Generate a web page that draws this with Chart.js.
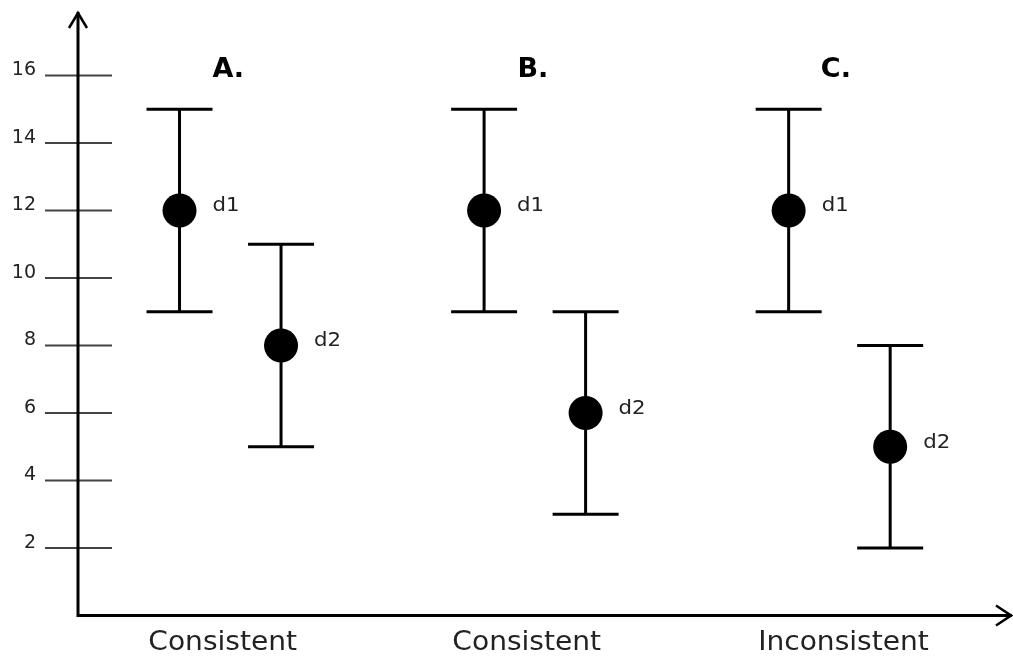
<!DOCTYPE html>
<html>
<head>
<meta charset="utf-8">
<script src="https://cdn.jsdelivr.net/npm/chart.js@4"></script>
<style>
  html, body { margin: 0; padding: 0; background: #fff; }
  #wrap { width: 1013px; height: 656px; }
</style>
</head>
<body>
<div id="wrap"><canvas id="chart"></canvas></div>
<script>
// data
const xPos = [1, 2, 4, 5, 7, 8];
const means = [12, 8, 12, 6, 12, 5];
const lows = [9, 5, 9, 3, 9, 2];
const highs = [15, 11, 15, 9, 15, 8];
const pointNames = ["d1", "d2", "d1", "d2", "d1", "d2"];
const groupTitles = ["A.", "B.", "C."];
const groupTitleX = [1.48, 4.48, 7.465];
const groupLabels = ["Consistent", "Consistent", "Inconsistent"];
const groupLabelX = [1.425, 4.42, 7.54];
const yTicks = [2, 4, 6, 8, 10, 12, 14, 16];

const font = "'DejaVu Sans', sans-serif";

function stretchedText(ctx, text, x, y, sx) {
  ctx.save();
  ctx.translate(x, y);
  ctx.scale(sx, 1);
  ctx.fillText(text, 0, 0);
  ctx.restore();
}

const drawing = {
  id: "drawing",
  beforeDatasetsDraw(chart) {
    const ctx = chart.ctx;
    const xs = chart.scales.x;
    const ys = chart.scales.y;
    const area = chart.chartArea;
    const x0 = xs.getPixelForValue(0);
    const y0 = ys.getPixelForValue(0);
    const left = 45, tickW = 67;
    ctx.save();

    // tick lines and labels
    ctx.strokeStyle = "#444";
    ctx.lineWidth = 2;
    ctx.fillStyle = "#222";
    ctx.font = "19px " + font;
    ctx.textAlign = "right";
    ctx.textBaseline = "alphabetic";
    yTicks.forEach(function (t) {
      const y = ys.getPixelForValue(t);
      ctx.beginPath();
      ctx.moveTo(left, y);
      ctx.lineTo(left + tickW, y);
      ctx.stroke();
      ctx.fillText(String(t), 36, y);
    });

    // axes with arrows
    ctx.strokeStyle = "#000";
    ctx.lineWidth = 3;
    ctx.beginPath();
    ctx.moveTo(x0, y0 + 1.5);
    ctx.lineTo(x0, area.top);
    ctx.moveTo(x0 - 1.5, y0);
    ctx.lineTo(area.right, y0);
    ctx.stroke();
    ctx.lineWidth = 2.5;
    ctx.beginPath();
    ctx.moveTo(x0 - 9, area.top + 16);
    ctx.lineTo(x0, area.top + 1);
    ctx.lineTo(x0 + 9, area.top + 16);
    ctx.moveTo(area.right - 16, y0 - 10);
    ctx.lineTo(area.right - 1, y0);
    ctx.lineTo(area.right - 16, y0 + 10);
    ctx.stroke();

    // error bars
    ctx.lineWidth = 3;
    xPos.forEach(function (v, i) {
      const x = xs.getPixelForValue(v);
      const yl = ys.getPixelForValue(lows[i]);
      const yh = ys.getPixelForValue(highs[i]);
      ctx.beginPath();
      ctx.moveTo(x, yl);
      ctx.lineTo(x, yh);
      ctx.moveTo(x - 33, yl);
      ctx.lineTo(x + 33, yl);
      ctx.moveTo(x - 33, yh);
      ctx.lineTo(x + 33, yh);
      ctx.stroke();
    });

    // point names
    ctx.fillStyle = "#222";
    ctx.font = "19px " + font;
    ctx.textAlign = "left";
    xPos.forEach(function (v, i) {
      stretchedText(ctx, pointNames[i], xs.getPixelForValue(v) + 33, ys.getPixelForValue(means[i]) + 1, 1.12);
    });

    // group titles
    ctx.fillStyle = "#000";
    ctx.font = "bold 27px " + font;
    ctx.textAlign = "center";
    groupTitles.forEach(function (t, i) {
      ctx.fillText(t, xs.getPixelForValue(groupTitleX[i]), 77);
    });

    // category labels
    ctx.fillStyle = "#222";
    ctx.font = "26px " + font;
    groupLabels.forEach(function (t, i) {
      stretchedText(ctx, t, xs.getPixelForValue(groupLabelX[i]), y0 + 34, 1.08);
    });
    ctx.restore();
  }
};

new Chart(document.getElementById("chart"), {
  type: "scatter",
  data: {
    datasets: [{
      data: xPos.map(function (x, i) { return { x: x, y: means[i] }; }),
      backgroundColor: "#000",
      borderColor: "#000",
      borderWidth: 0,
      pointRadius: 17,
      pointHoverRadius: 17
    }]
  },
  options: {
    responsive: true,
    maintainAspectRatio: false,
    animation: false,
    layout: { autoPadding: false, padding: { left: 78, right: 1, top: 12, bottom: 40.5 } },
    plugins: { legend: { display: false }, tooltip: { enabled: false } },
    scales: {
      x: { type: "linear", min: 0, max: 9.2, display: false },
      y: { type: "linear", min: 0, max: 17.88, display: false }
    }
  },
  plugins: [drawing]
});
</script>
</body>
</html>
